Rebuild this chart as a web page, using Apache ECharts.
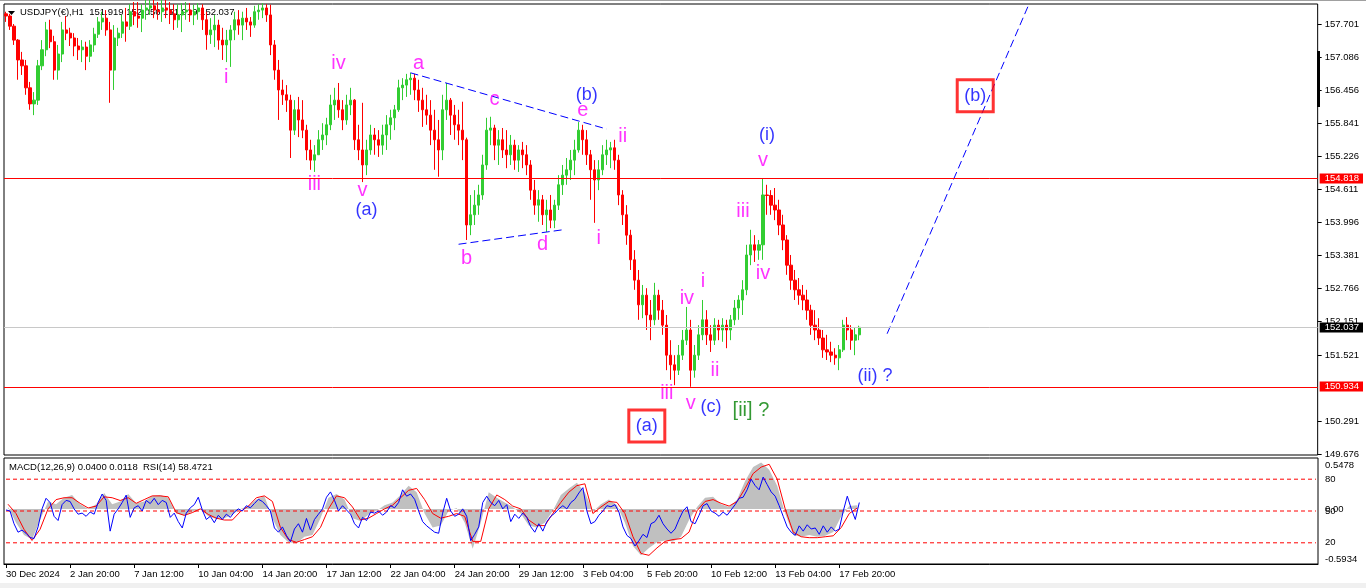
<!DOCTYPE html>
<html><head><meta charset="utf-8">
<script src="https://cdn.jsdelivr.net/npm/echarts@6/dist/echarts.min.js"></script>
<style>html,body{margin:0;padding:0;background:#fff;}#c{width:1366px;height:588px;}</style>
</head><body><div id="c"></div>
<script>
const symbolTitle = 'USDJPY(\u20AC),H1  151.919 152.056 151.919 152.037';
const indicatorTitle = 'MACD(12,26,9) 0.0400 0.0118  RSI(14) 58.4721';
const timeLabels = ['30 Dec 2024','2 Jan 20:00','7 Jan 12:00','10 Jan 04:00','14 Jan 20:00','17 Jan 12:00','22 Jan 04:00','24 Jan 20:00','29 Jan 12:00','3 Feb 04:00','5 Feb 20:00','10 Feb 12:00','13 Feb 04:00','17 Feb 20:00'];
const priceTicks = [157.701,157.086,156.456,155.841,155.226,154.611,153.996,153.381,152.766,152.151,151.521,150.291,149.676];
const levelRed = [154.818,150.934];
const lastPrice = 152.037;
const rsiLevels = [80,50,20];
const macdTicks = [0.5478,0,-0.5934];

// 4-hour candles [open, close, low, high]
const ohlc = [
[157.89,157.85,157.74,157.93],[157.85,157.66,157.59,157.89],[157.66,157.40,157.31,157.70],[157.40,157.03,156.66,157.42],[157.03,156.92,156.75,157.18],
[156.92,156.51,156.38,157.03],[156.51,156.21,156.10,156.62],[156.21,156.28,156.00,156.43],[156.28,156.92,156.19,157.03],[156.92,157.22,156.84,157.40],
[157.22,157.59,157.10,157.74],[157.59,157.37,157.25,157.78],[157.37,156.84,156.66,157.48],[156.84,157.14,156.66,157.31],[157.14,157.59,156.99,157.74],
[157.59,157.53,157.40,157.85],[157.53,157.44,157.29,157.63],[157.44,157.29,157.10,157.53],[157.29,157.22,157.03,157.44],[157.22,157.27,156.99,157.40],
[157.27,157.10,156.84,157.37],[157.10,157.31,156.99,157.40],[157.31,157.51,157.18,157.63],[157.51,157.74,157.44,157.83],[157.74,157.81,157.59,157.93],
[157.81,157.59,157.48,157.96],[157.59,156.84,156.23,157.74],[156.84,157.44,156.47,157.68],[157.44,157.53,157.29,157.63],[157.53,157.74,157.44,157.87],
[157.74,157.66,157.37,158.00],[157.66,157.93,157.59,158.07],[157.93,157.85,157.68,158.11],[157.85,157.81,157.63,158.11],[157.81,157.96,157.55,158.07],
[157.96,158.00,157.78,158.15],[158.00,158.04,157.87,158.15],[158.04,157.96,157.81,158.15],[157.96,157.93,157.78,158.11],[157.93,158.00,157.74,158.15],
[158.00,157.96,157.81,158.15],[157.96,157.89,157.70,158.11],[157.89,157.78,157.59,158.07],[157.78,157.87,157.63,158.07],[157.87,157.93,157.55,158.09],
[157.93,157.96,157.78,158.11],[157.96,157.87,157.74,158.09],[157.87,157.93,157.68,158.06],[157.93,158.00,157.78,158.09],[158.00,157.78,157.59,158.07],
[157.78,157.50,157.22,157.93],[157.50,157.59,157.33,157.81],[157.59,157.68,157.27,157.87],[157.68,157.40,157.22,157.78],[157.40,157.31,157.03,157.63],
[157.31,157.40,156.99,157.59],[157.40,157.59,156.90,157.68],[157.59,157.78,157.40,157.93],[157.78,157.68,157.50,157.96],[157.68,157.81,157.40,157.93],
[157.81,157.74,157.59,158.00],[157.74,157.68,157.46,157.83],[157.68,157.93,157.63,158.04],[157.93,157.96,157.78,158.07],[157.96,158.00,157.81,158.09],
[158.00,157.87,157.74,158.07],[157.87,157.31,157.12,158.06],[157.31,156.84,156.66,157.40],[156.84,156.47,155.91,157.03],[156.47,156.38,156.19,156.66],
[156.38,156.28,156.06,156.56],[156.28,155.72,155.20,156.38],[155.72,156.10,155.63,156.28],[156.10,155.91,155.59,156.34],[155.91,155.72,155.57,156.28],
[155.72,155.35,155.16,155.82],[155.35,155.16,154.98,155.54],[155.16,155.26,154.94,155.44],[155.26,155.54,155.26,155.72],[155.54,155.63,155.35,155.85],
[155.63,155.82,155.44,155.95],[155.82,156.19,155.72,156.38],[156.19,156.28,155.91,156.51],[156.28,156.10,155.95,156.60],[156.10,155.91,155.72,156.28],
[155.91,156.19,155.82,156.38],[156.19,156.28,156.00,156.51],[156.28,155.54,155.35,156.30],[155.54,155.35,155.16,155.82],[155.35,155.07,154.75,156.23],
[155.07,155.35,154.88,155.54],[155.35,155.63,155.26,155.82],[155.63,155.54,155.26,155.76],[155.54,155.44,155.22,155.72],[155.44,155.63,155.26,155.82],
[155.63,155.82,155.35,156.00],[155.82,155.95,155.54,156.10],[155.95,156.10,155.72,156.19],[156.10,156.51,156.06,156.66],[156.51,156.56,156.28,156.69],
[156.56,156.66,156.34,156.77],[156.66,156.69,156.38,156.79],[156.69,156.47,156.28,156.77],[156.47,156.28,156.06,156.66],[156.28,156.10,155.78,156.51],
[156.10,156.00,155.82,156.38],[156.00,155.72,155.44,156.28],[155.72,155.54,154.98,156.10],[155.54,155.35,154.85,155.91],[155.35,156.10,155.16,156.38],
[156.10,156.28,155.91,156.60],[156.28,156.00,155.63,156.32],[156.00,155.82,155.54,156.19],[155.82,155.72,155.44,156.10],[155.72,155.54,155.16,156.25],
[155.54,153.95,153.67,155.58],[153.95,154.14,153.76,154.51],[154.14,154.32,153.95,154.60],[154.32,154.51,154.14,154.70],[154.51,155.07,154.42,155.26],
[155.07,155.72,154.98,155.95],[155.72,155.76,155.44,155.97],[155.76,155.44,155.16,155.82],[155.44,155.54,155.07,155.72],[155.54,155.35,155.20,155.76],
[155.35,155.26,155.01,155.72],[155.26,155.44,155.07,155.63],[155.44,155.16,154.98,155.54],[155.16,155.35,154.94,155.44],[155.35,155.26,155.01,155.50],
[155.26,155.07,154.88,155.44],[155.07,154.60,154.42,155.16],[154.60,154.32,154.14,154.79],[154.32,154.42,154.01,154.60],[154.42,154.14,153.95,154.51],
[154.14,154.23,153.82,154.42],[154.23,154.04,153.89,154.51],[154.04,154.32,153.89,154.42],[154.32,154.70,154.23,154.88],[154.70,154.88,154.51,155.07],
[154.88,154.98,154.70,155.20],[154.98,155.16,154.79,155.35],[155.16,155.35,154.88,155.54],[155.35,155.72,155.30,155.87],[155.72,155.54,155.26,155.82],
[155.54,155.26,155.07,155.72],[155.26,154.98,154.42,155.35],[154.98,154.79,153.99,155.16],[154.79,154.98,154.60,155.16],[154.98,155.26,154.88,155.44],
[155.26,155.35,155.07,155.54],[155.35,155.39,155.01,155.50],[155.39,155.16,154.98,155.54],[155.16,154.51,154.32,155.26],[154.51,154.14,153.95,154.60],
[154.14,153.76,153.58,154.32],[153.76,153.30,153.11,153.86],[153.30,152.92,152.74,153.48],[152.92,152.46,152.18,153.11],[152.46,152.64,152.21,152.83],
[152.64,152.27,151.99,152.77],[152.27,152.18,151.80,152.55],[152.18,152.64,152.08,152.87],[152.64,152.36,152.18,152.74],[152.36,152.08,151.90,152.55],
[152.08,151.52,151.24,152.27],[151.52,151.34,151.06,151.80],[151.34,151.24,150.96,151.52],[151.24,151.52,151.15,151.71],[151.52,151.80,151.43,151.99],
[151.80,151.99,151.71,152.42],[151.99,151.24,150.93,152.18],[151.24,151.52,151.10,151.71],[151.52,151.90,151.43,152.08],[151.90,152.18,151.80,152.55],
[152.18,151.90,151.71,152.36],[151.90,151.80,151.58,152.08],[151.80,152.08,151.71,152.21],[152.08,151.99,151.80,152.18],[151.99,152.08,151.77,152.21],
[152.08,151.99,151.65,152.18],[151.99,152.18,151.80,152.27],[152.18,152.40,152.08,152.55],[152.40,152.55,152.18,152.64],[152.55,152.74,152.27,152.92],
[152.74,153.39,152.64,153.58],[153.39,153.58,153.20,153.86],[153.58,153.48,153.26,153.76],[153.48,153.58,153.30,153.67],[153.58,154.51,153.30,154.82],
[154.51,154.50,154.14,154.70],[154.50,154.32,154.14,154.60],[154.32,154.23,154.04,154.64],[154.23,153.95,153.76,154.42],[153.95,153.67,153.48,154.14],
[153.67,153.20,153.02,153.76],[153.20,152.92,152.74,153.39],[152.92,152.74,152.55,153.11],[152.74,152.64,152.46,152.96],[152.64,152.55,152.36,152.83],
[152.55,152.36,152.18,152.74],[152.36,152.08,151.90,152.46],[152.08,151.99,151.80,152.36],[151.99,151.84,151.71,152.21],[151.84,151.62,151.47,151.99],
[151.62,151.58,151.43,151.90],[151.58,151.52,151.39,151.77],[151.52,151.47,151.34,151.65],[151.47,151.62,151.24,151.71],[151.62,152.08,151.58,152.18],
[152.08,151.99,151.80,152.23],[151.99,151.80,151.62,152.08],[151.80,151.90,151.52,152.03],[151.90,152.04,151.80,152.07]
];

// RSI(14), one value per 4-hour candle
const rsi = [51,50,38,30,32,29,25,24,35,52, 62,58,45,41,56,60,59,52,47,48, 45,49,47,58,66,60,31,47,52,58,
 65,44,53,55,50,60,57,62,56,60, 58,44,48,40,34,48,53,56,63,51, 42,45,39,46,42,47,44,49,52,50,
 55,53,57,61,59,55,50,34,30,35, 27,21,33,38,30,43,32,42,47,52, 63,68,60,50,55,51,47,38,34,44,
 41,49,48,50,46,49,55,53,58,70, 64,66,61,50,40,36,33,30,29,48, 62,50,45,47,52,45,22,28,35,58,
 64,58,55,60,52,56,40,47,43,48, 44,35,30,38,31,40,45,48,52,55, 52,58,61,67,72,50,38,40,46,50,
 55,54,56,49,35,27,24,17,22,28, 25,38,40,46,38,33,29,33,42,50, 54,40,38,46,55,57,50,48,45,49,
 46,51,56,62,63,70,80,74,70,82, 75,68,64,55,45,35,30,27,36,31, 37,33,34,28,36,30,35,31,33,50, 64,52,42,58];

// MACD main and signal, one value per 8 hours
const macd = [0.02,-0.15,-0.28,-0.33,-0.12,0.08,0.05,0.12,0.15,0.05,
 0.0,0.05,0.17,0.05,0.08,0.16,0.06,0.08,0.14,0.15,
 0.12,-0.05,-0.07,-0.03,0.0,-0.08,-0.11,-0.10,-0.06,0.0,
 0.03,0.10,0.14,-0.10,-0.28,-0.36,-0.37,-0.30,-0.28,-0.10,
 0.12,0.16,0.10,-0.10,-0.13,-0.06,-0.02,0.04,0.07,0.15,
 0.25,0.18,-0.05,-0.20,-0.18,-0.02,0.01,-0.15,-0.43,-0.15,
 0.18,0.12,0.07,0.02,-0.05,-0.18,-0.20,-0.15,-0.02,0.15,
 0.22,0.28,0.18,-0.03,0.05,0.10,0.04,-0.15,-0.40,-0.50,
 -0.42,-0.36,-0.34,-0.35,-0.30,-0.12,0.02,0.12,0.13,0.05,
 0.02,0.10,0.30,0.45,0.50,0.42,0.25,-0.05,-0.28,-0.30,
 -0.28,-0.30,-0.29,-0.25,-0.08,0.03,0.04];
const signal = [0.05,-0.05,-0.22,-0.34,-0.22,0.0,0.10,0.12,0.12,0.06,
 0.01,0.03,0.13,0.12,0.09,0.12,0.06,0.10,0.14,0.14,
 0.13,-0.04,-0.07,-0.04,0.0,-0.06,-0.10,-0.12,-0.12,-0.03,
 0.03,0.12,0.14,0.08,-0.20,-0.33,-0.36,-0.33,-0.30,-0.20,
 0.0,0.14,0.12,0.02,-0.12,-0.10,-0.05,0.0,0.04,0.12,
 0.20,0.22,0.10,-0.05,-0.10,-0.08,-0.05,-0.08,-0.35,-0.35,
 0.0,0.15,0.10,0.03,0.0,-0.12,-0.18,-0.18,-0.05,0.07,
 0.18,0.25,0.27,-0.05,0.02,0.08,0.07,-0.05,-0.30,-0.48,
 -0.50,-0.42,-0.35,-0.33,-0.32,-0.25,-0.02,0.08,0.10,0.06,
 0.03,0.08,0.22,0.38,0.45,0.48,0.32,0.0,-0.25,-0.30,
 -0.31,-0.31,-0.30,-0.29,-0.20,-0.05,0.01];

// Elliott wave annotations: [candle index, price, text, colour key]
const waveLabels = [
 [55,156.71,'i','m'],[83,156.96,'iv','m'],[77,154.70,'iii','m'],[89,154.60,'v','m'],[90,154.23,'(a)','b'],
 [103,156.96,'a','m'],[122,156.30,'c','m'],[115,153.32,'b','m'],[134,153.58,'d','m'],[144,156.08,'e','m'],
 [145,156.38,'(b)','b'],[148,153.69,'i','m'],[154,155.61,'ii','m'],
 [165,150.80,'iii','m'],[171,150.61,'v','m'],[176,150.55,'(c)','b'],[186,150.48,'[ii] ?','g'],
 [170,152.57,'iv','m'],[174,152.89,'i','m'],[177,151.23,'ii','m'],
 [184,154.21,'iii','m'],[189,153.05,'iv','m'],[189,155.16,'v','m'],[190,155.63,'(i)','b'],
 [217,151.13,'(ii) ?','b']
];
const boxedLabels = [[160,150.20,'(a)'],[242,156.36,'(b)']];
const trendLines = [
 [[101,156.79],[150,155.74]],
 [[113,153.59],[139,153.86]],
 [[220,151.92],[258,158.52]]
];

const NCAT = 328, STEP = 16;
const cats = Array.from({length:NCAT},(_,i)=> (i%STEP===0 && timeLabels[i/STEP]) ? timeLabels[i/STEP] : '');
const cats2 = Array.from({length:NCAT/2},(_,i)=>String(i));
const FONT = '"Liberation Sans", Arial, sans-serif';
const colorMap = {m:'#FF00FF', b:'#0000FF', g:'#008000'};
const sizeMap = {m:20, b:18, g:20};
const near = (a,b)=>Math.abs(a-b)<1e-6;

const chart = echarts.init(document.getElementById('c'), null, {renderer:'canvas'});
const showLbl = (idx,val)=>val!=='';
const lblBase = {fontFamily:FONT, fontSize:9.5, color:'#000', lineHeight:11};

const option = {
 animation:false,
 backgroundColor:'#fff',
 grid:[
  {left:4, top:4, width:1314, height:451, show:true, borderColor:'#000', borderWidth:1},
  {left:4, top:458, width:1314, height:106, show:true, borderColor:'#000', borderWidth:1}
 ],
 xAxis:[
  {type:'category', gridIndex:0, data:cats, boundaryGap:true, axisLine:{show:false}, axisTick:{show:false}, axisLabel:{show:false}, splitLine:{show:false}},
  {type:'category', gridIndex:1, data:cats, boundaryGap:true, splitLine:{show:false},
   axisLine:{show:true, lineStyle:{color:'#000', width:1}},
   axisTick:{show:true, interval:showLbl, alignWithLabel:true, length:4, lineStyle:{color:'#000'}},
   axisLabel:{show:true, interval:showLbl, align:'left', margin:5, fontFamily:FONT, fontSize:9.5, color:'#000'}},
  {type:'category', gridIndex:1, data:cats2, boundaryGap:true, show:false, splitLine:{show:false}}
 ],
 yAxis:[
  {type:'value', gridIndex:0, position:'right', min:149.657, max:158.074, scale:true,
   splitLine:{show:false}, axisLine:{show:false},
   axisTick:{show:true, customValues:priceTicks, length:4, lineStyle:{color:'#000'}},
   axisLabel:{show:true, margin:2, customValues:[...priceTicks, ...levelRed, lastPrice],
    formatter:function(v){
     const s=v.toFixed(3);
     if(levelRed.some(x=>near(x,v))) return '{r|'+s+'}';
     if(near(v,lastPrice)) return '{k|'+s+'}';
     return '{n|'+s+'}';
    },
    rich:{
     n:Object.assign({padding:[0,4,0,5]},lblBase),
     r:Object.assign({},lblBase,{color:'#fff', backgroundColor:'#FF0000', padding:[0,4,0,5]}),
     k:Object.assign({},lblBase,{color:'#fff', backgroundColor:'#000', padding:[0,4,0,5]})
    }}},
  {type:'value', gridIndex:1, position:'right', min:0, max:100,
   splitLine:{show:false}, axisLine:{show:false}, axisTick:{show:false},
   axisLabel:{show:true, margin:2, customValues:rsiLevels, formatter:v=>'{n|'+v+'}',
    rich:{n:Object.assign({padding:[0,4,0,5]},lblBase)}}},
  {type:'value', gridIndex:1, position:'right', min:-0.5934, max:0.5478,
   splitLine:{show:false}, axisLine:{show:false}, axisTick:{show:false},
   axisLabel:{show:true, margin:2, customValues:macdTicks,
    formatter:function(v){
     if(near(v,0)) return '{n|0.00}';
     if(v>0) return '{t|'+v.toFixed(4)+'}';
     return '{u|'+v.toFixed(4)+'}';
    },
    rich:{
     n:Object.assign({padding:[0,4,0,5]},lblBase),
     t:Object.assign({padding:[14,4,0,5]},lblBase),
     u:Object.assign({padding:[0,4,10,5]},lblBase)
    }}}
 ],
 series:[
  {type:'candlestick', xAxisIndex:0, yAxisIndex:0, data:ohlc, barWidth:2.6, clip:true,
   itemStyle:{color:'#32CD32', color0:'#FF0000', borderColor:'#32CD32', borderColor0:'#FF0000', borderWidth:1},
   markLine:{silent:true, symbol:'none', animation:false, label:{show:false},
    data:[
     {yAxis:levelRed[0], lineStyle:{color:'#FF0000', width:1, type:'solid'}},
     {yAxis:levelRed[1], lineStyle:{color:'#FF0000', width:1, type:'solid'}},
     {yAxis:lastPrice, lineStyle:{color:'#C8C8C8', width:1, type:'solid'}}
    ]}},
  ...trendLines.map(pts=>({type:'line', xAxisIndex:0, yAxisIndex:0, data:pts, showSymbol:false, symbol:'none', silent:true, clip:true,
    lineStyle:{color:'#0000FF', width:1, type:[8,4]}})),
  {type:'scatter', xAxisIndex:0, yAxisIndex:0, symbol:'circle', symbolSize:2, itemStyle:{color:'rgba(255,255,255,0)'}, silent:true, clip:false, z:5,
   data:waveLabels.map(w=>({value:[w[0],w[1]], name:w[2],
    label:{show:true, position:'inside', formatter:'{b}', color:colorMap[w[3]], fontSize:sizeMap[w[3]], fontFamily:FONT}}))},
  {type:'scatter', xAxisIndex:0, yAxisIndex:0, symbol:'circle', symbolSize:2, itemStyle:{color:'rgba(255,255,255,0)'}, silent:true, clip:false, z:5,
   data:boxedLabels.map(w=>({value:[w[0],w[1]], name:w[2],
    label:{show:true, position:'inside', formatter:'{b}', color:'#0000FF', fontSize:18, fontFamily:FONT,
     borderColor:'#FF0000', borderWidth:3, padding:[8,7,6,7]}}))},
  {type:'line', xAxisIndex:2, yAxisIndex:2, data:macd, symbol:'none', silent:true,
   lineStyle:{width:0}, areaStyle:{color:'#C0C0C0', opacity:1, origin:0}, z:1},
  ...rsiLevels.map(v=>({type:'line', xAxisIndex:1, yAxisIndex:1, data:[[0,v],[NCAT-1,v]], symbol:'none', showSymbol:false, silent:true, z:2,
    lineStyle:{color:'#FF0000', width:1, type:[4,3]}})),
  {type:'line', xAxisIndex:2, yAxisIndex:2, data:signal, symbol:'none', silent:true,
   lineStyle:{color:'#FF0000', width:1}, z:3},
  {type:'line', xAxisIndex:1, yAxisIndex:1, data:rsi, symbol:'none', silent:true,
   lineStyle:{color:'#0000FF', width:1}, z:4}
 ],
 graphic:[
  {type:'rect', shape:{x:0,y:0,width:1366,height:1}, style:{fill:'#A0A0A0'}, silent:true},
  {type:'rect', shape:{x:0,y:583,width:1366,height:5}, style:{fill:'#F0F0F0'}, silent:true},
  {type:'rect', shape:{x:1317,y:51,width:3,height:56}, style:{fill:'#000'}, silent:true},
  {type:'polygon', shape:{points:[[8,11],[15,11],[11.5,15]]}, style:{fill:'#000'}, silent:true},
  {type:'text', left:20, top:7, silent:true, style:{text:symbolTitle, font:'9.5px '+FONT, fill:'#000'}},
  {type:'text', left:9, top:462, silent:true, style:{text:indicatorTitle, font:'9.5px '+FONT, fill:'#000'}}
 ]
};
chart.setOption(option);
</script>
</body></html>
